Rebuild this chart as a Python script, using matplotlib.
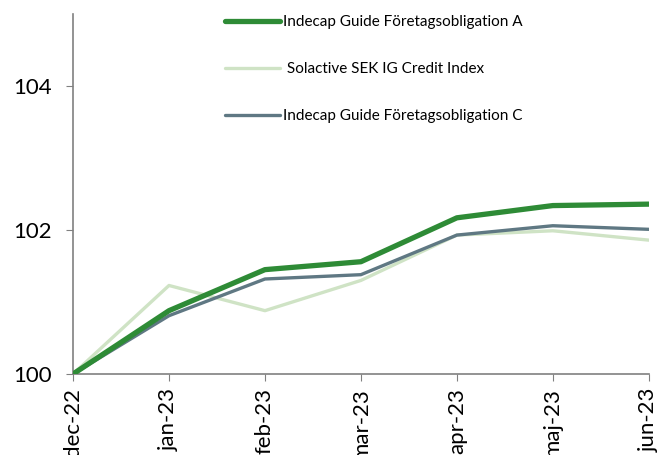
import matplotlib.pyplot as plt

plt.rcParams['font.family'] = ['Lato', 'DejaVu Sans']

months = ['dec-22', 'jan-23', 'feb-23', 'mar-23', 'apr-23', 'maj-23', 'jun-23']
fund_a = [100.0, 100.88, 101.45, 101.56, 102.17, 102.34, 102.36]
index_ig = [100.0, 101.23, 100.88, 101.30, 101.93, 101.99, 101.86]
fund_c = [100.0, 100.81, 101.32, 101.38, 101.93, 102.06, 102.01]

fig = plt.figure(figsize=(6.58, 4.55), dpi=100)
ax = fig.add_axes([0.111, 0.178, 0.875, 0.791])

x = range(len(months))
ax.plot(x, fund_a, color='#2e8b36', lw=3.8, solid_capstyle='round', label='Indecap Guide Företagsobligation A', zorder=3)
ax.plot(x, index_ig, color='#cfe3c5', lw=2.4, solid_capstyle='round', label=' Solactive SEK IG Credit Index', zorder=1)
ax.plot(x, fund_c, color='#5f7883', lw=2.4, solid_capstyle='round', label='Indecap Guide Företagsobligation C', zorder=2)

ax.set_xlim(0, 6)
ax.set_ylim(100, 105)
ax.set_yticks([100, 102, 104])
ax.set_xticks(list(x))
ax.set_xticklabels(months, rotation=90, fontsize=16)
ax.tick_params(axis='y', labelsize=16, length=5, color='#808080', pad=10)
ax.tick_params(axis='x', length=5, color='#808080', pad=5)
for s in ['top', 'right']:
    ax.spines[s].set_visible(False)
for s in ['left', 'bottom']:
    ax.spines[s].set_color('#808080')
    ax.spines[s].set_linewidth(1.2)

ax.legend(loc='upper left', bbox_to_anchor=(0.24, 1.035), frameon=False,
          fontsize=11, handlelength=3.6, handletextpad=0.2, labelspacing=2.15)

fig.savefig('out.png', dpi=100)
